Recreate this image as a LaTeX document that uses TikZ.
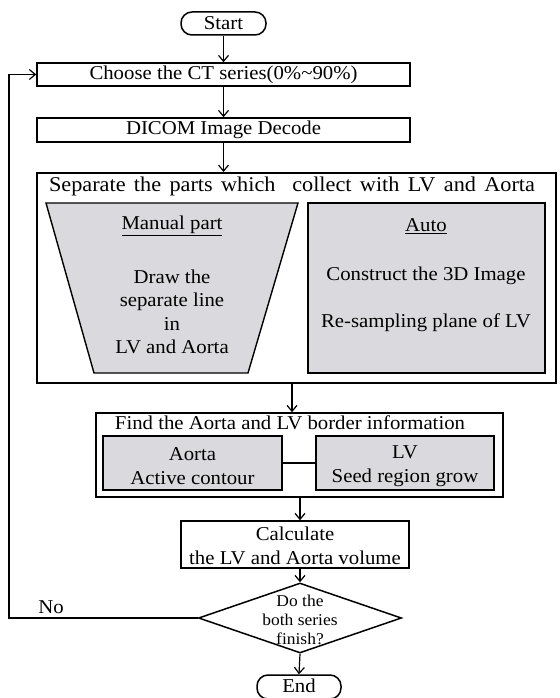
\documentclass[tikz,border=0pt]{standalone}
\usepackage{fontspec}
\setmainfont{Liberation Serif}[FakeStretch=1.06]
\usetikzlibrary{arrows.meta,shapes.geometric}
\definecolor{boxgray}{RGB}{218,218,222}
\tikzset{
  box/.style={draw, line width=1.5pt, rectangle, inner sep=0pt, anchor=center},
  graybox/.style={box, fill=boxgray},
  term/.style={box, rounded corners=11pt},
  txt/.style={inner sep=0pt, align=center, font=\fontsize{19.6}{23.5}\selectfont},
  bigtxt/.style={inner sep=0pt, align=center, font=\fontsize{21}{24}\selectfont},
  smalltxt/.style={inner sep=0pt, align=center, font=\fontsize{16.5}{19}\selectfont},
  arr/.style={line width=1.2pt, -{Straight Barb[length=6pt,width=10pt,line width=1.2pt]}},
  conn/.style={line width=1.4pt}
}
\begin{document}
\begin{tikzpicture}[x=1pt,y=-1pt]
\useasboundingbox (0,0) rectangle (559,698);
% terminals and boxes
\node[term, minimum width=85pt, minimum height=23pt] (start) at (223.5,23.5) {};
\node[txt] (starttxt) at (223.5,23) {Start};
\node[box, minimum width=373pt, minimum height=23pt] (choose) at (223.5,74.5) {};
\node[txt] (choosetxt) at (223.5,75) {Choose the CT series(0\%\textasciitilde90\%)};
\node[box, minimum width=373pt, minimum height=24pt] (dicom) at (223.5,130) {};
\node[txt] (dicomtxt) at (223.5,130) {DICOM Image Decode};
% separate group
\node[box, line width=2pt, minimum width=519pt, minimum height=210pt] (sep) at (296.5,278) {};
\node[bigtxt] (septxt) at (292,186) {\makebox[486pt][s]{Separate the parts which\ \ collect with LV and Aorta}};
\draw[line width=1.4pt, fill=boxgray] (46,203) -- (298,203) -- (248,373) -- (94,373) -- cycle;
\node[graybox, line width=1.4pt, minimum width=237pt, minimum height=170pt] (auto) at (426.5,288) {};
\node[txt] (mantitle) at (172,226) {\underline{Manual part}};
\node[txt] (mantxt) at (172,312) {Draw the\\separate line\\in\\LV and Aorta};
\node[txt] (autotitle) at (426,226) {\underline{Auto}};
\node[txt] (auto1) at (426,276) {Construct the 3D Image};
\node[txt] (auto2) at (426,323) {Re-sampling plane of LV};
% find group
\node[box, minimum width=407pt, minimum height=84pt] (find) at (299.5,455) {};
\node[txt] (findtxt) at (290,423) {Find the Aorta and LV border information};
\node[graybox, line width=1.4pt, minimum width=179pt, minimum height=54pt] (aorta) at (192.5,463) {};
\node[txt] (aortatxt) at (192.5,466) {Aorta\\Active contour};
\node[graybox, line width=1.4pt, minimum width=178pt, minimum height=54pt] (lv) at (405,463) {};
\node[txt] (lvtxt) at (405,466) {LV\\Seed region grow};
% calculate
\node[box, minimum width=228pt, minimum height=47pt] (calc) at (295,544.5) {};
\node[txt] (calctxt) at (295,546) {Calculate\\the LV and Aorta volume};
% decision
\node[draw, diamond, line width=1.5pt, inner sep=0pt, minimum width=203pt, minimum height=70pt] (dia) at (300,618) {};
\node[smalltxt] (diatxt) at (300,620) {Do the\\both series\\finish?};
\node[term, minimum width=84pt, minimum height=24pt] (end) at (299,687) {};
\node[txt] (endtxt) at (299,686) {End};
\node[txt] (no) at (51,607) {No};
% helper coordinates
\coordinate (sepx) at (292,0);
\coordinate (calcx) at (300,0);
\coordinate (loopx) at (9,0);
% connectors
\draw[arr] (start.south) -- (choose.north);
\draw[arr] (choose.south) -- (dicom.north);
\draw[arr] (dicom.south) -- (sep.north -| dicom.south);
\draw[arr] (sep.south -| sepx) -- (find.north -| sepx);
\draw[conn] (aorta.east) -- (lv.west);
\draw[arr] (find.south -| calcx) -- (calc.north -| calcx);
\draw[arr] (calc.south -| dia.north) -- (dia.north);
\draw[arr] (dia.south) -- (end.north);
\draw[arr] (dia.west) -- (dia.west -| loopx) |- (choose.west);
\end{tikzpicture}
\end{document}
